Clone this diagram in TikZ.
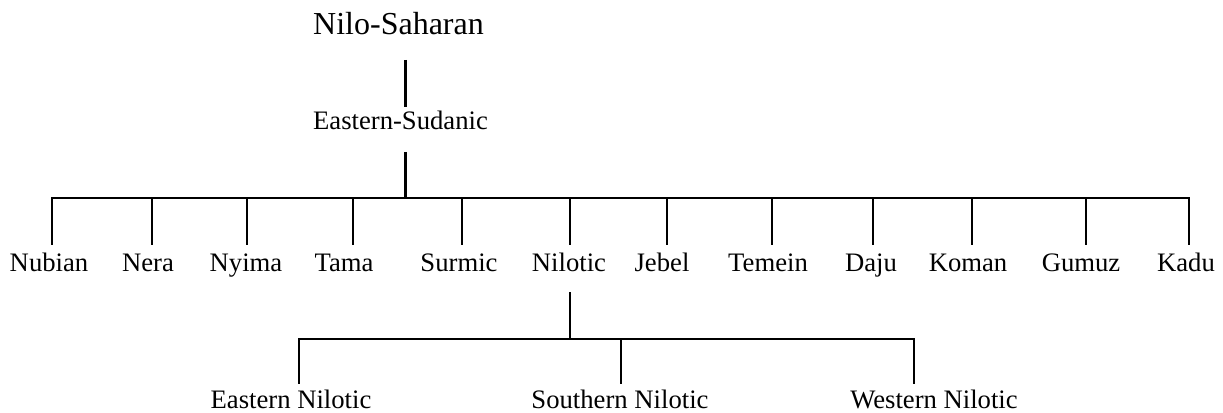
\documentclass[tikz,border=0pt]{standalone}
\usepackage{fontspec}
\setmainfont{Liberation Serif}
\tikzset{
  root/.style={anchor=base, inner sep=0pt, font=\fontsize{24}{28}\selectfont},
  lang/.style={anchor=base, inner sep=0pt, font=\fontsize{20}{24}\selectfont},
  branch/.style={line width=1.7pt}
}
\begin{document}
\begin{tikzpicture}[x=0.75pt,y=-0.75pt]
\useasboundingbox (0,0) rectangle (1223,413);
% Define the families
\node (nilosah) [root] at (398.5,35) {Nilo-Saharan};
\node (eastsud) [lang] at (400.5,130) {Eastern-Sudanic};
\node (nubian) [lang] at (49,271) {Nubian};
\node (nera) [lang] at (148,271) {Nera};
\node (nyima) [lang] at (246,271) {Nyima};
\node (tama) [lang] at (344,271) {Tama};
\node (surmic) [lang] at (459,271) {Surmic};
\node (nilotic) [lang] at (569,271) {Nilotic};
\node (jebel) [lang] at (662,271) {Jebel};
\node (temein) [lang] at (768,271) {Temein};
\node (daju) [lang] at (871,271) {Daju};
\node (koman) [lang] at (968,271) {Koman};
\node (gumuz) [lang] at (1081,271) {Gumuz};
\node (kadu) [lang] at (1186,271) {Kadu};
\node (eastnil) [lang] at (291,408) {Eastern Nilotic};
\node (southnil) [lang] at (620,408) {Southern Nilotic};
\node (westnil) [lang] at (934,408) {Western Nilotic};

% Draw the branches
\draw [branch] ([shift={(7,25)}]nilosah.base) -- ([shift={(5,-23)}]eastsud.base);
\draw [branch] ([shift={(5,22)}]eastsud.base) -- ++(0,46) coordinate (sudbar);
\foreach \n/\d in {nubian/3, nera/4, nyima/1, tama/9, surmic/3, nilotic/1,
                   jebel/5, temein/4, daju/2, koman/4, gumuz/5, kadu/3}
  \draw [branch] (sudbar) -| ([shift={(\d,-26)}]\n.base);
\draw [branch] ([shift={(1,21)}]nilotic.base) -- ++(0,47) coordinate (nilbar);
\foreach \n/\d in {eastnil/8, southnil/1, westnil/-20}
  \draw [branch] (nilbar) -| ([shift={(\d,-24)}]\n.base);

\end{tikzpicture}
\end{document}
